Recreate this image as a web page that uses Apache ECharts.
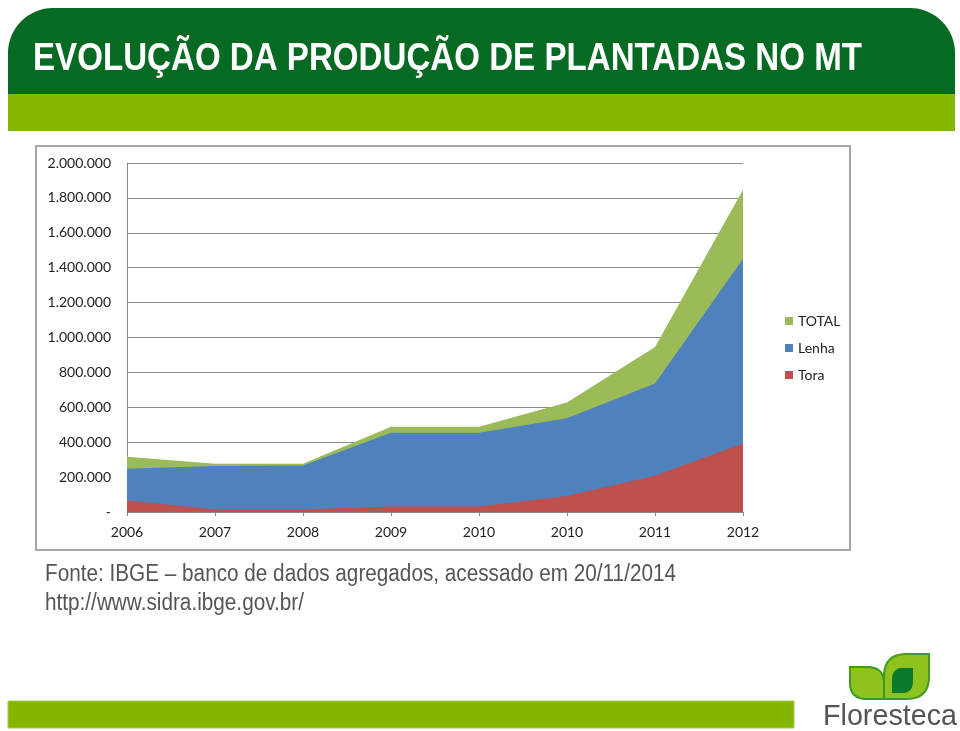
<!DOCTYPE html>
<html>
<head>
<meta charset="utf-8">
<script src="https://cdn.jsdelivr.net/npm/echarts@6/dist/echarts.min.js"></script>
<style>
  html, body { margin: 0; padding: 0; background: #fff; }
  #chart { width: 960px; height: 731px; }
</style>
</head>
<body>
<div id="chart"></div>
<script>
  // data
  const years = ['2006', '2007', '2008', '2009', '2010', '2010', '2011', '2012'];
  const total = [316000, 276000, 276000, 488000, 488000, 628000, 946000, 1847000];
  const lenha = [248000, 264000, 266000, 454000, 454000, 537000, 736000, 1452000];
  const tora  = [66000, 14000, 14000, 32000, 32000, 92000, 208000, 393000];
  const seriesNames = ['TOTAL', 'Lenha', 'Tora'];

  const sans = '"Liberation Sans", Arial, sans-serif';
  const calibri = 'Lato, "Open Sans", sans-serif';

  function fmt(v) {
    if (v === 0) return '-';
    return String(v).replace(/\B(?=(\d{3})+(?!\d))/g, '.');
  }

  // no narrow font installed, so squeeze text horizontally to the width it has in the slide
  const ctx = document.createElement('canvas').getContext('2d');
  function squeezed(text, font, x, y, w, fill) {
    ctx.font = font;
    const s = w / ctx.measureText(text).width;
    return { type: 'text', x: x, y: y, scaleX: s, originX: 0, style: { text: text, font: font, fill: fill, verticalAlign: 'middle' } };
  }

  // leaf outline with two sharp corners and two rounded ones
  function leaf(x0, y0, x1, y1, flip) {
    const pts = [];
    const q = (a, c, b, t) => (1 - t) * (1 - t) * a + 2 * (1 - t) * t * c + t * t * b;
    const n = 12;
    if (!flip) {
      // sharp top-left and bottom-right
      pts.push([x0, y0]);
      for (let i = 0; i <= n; i++) { const t = i / n; pts.push([q(x0 + (x1 - x0) * 0.5, x1, x1, t), q(y0, y0, y0 + (y1 - y0) * 0.5, t)]); }
      pts.push([x1, y1]);
      for (let i = 0; i <= n; i++) { const t = i / n; pts.push([q(x0 + (x1 - x0) * 0.5, x0, x0, t), q(y1, y1, y0 + (y1 - y0) * 0.5, t)]); }
    } else {
      // sharp top-right and bottom-left
      pts.push([x1, y0]);
      for (let i = 0; i <= n; i++) { const t = i / n; pts.push([q(x1, x1, x0 + (x1 - x0) * 0.5, t), q(y0 + (y1 - y0) * 0.5, y1, y1, t)]); }
      pts.push([x0, y1]);
      for (let i = 0; i <= n; i++) { const t = i / n; pts.push([q(x0, x0, x0 + (x1 - x0) * 0.5, t), q(y0 + (y1 - y0) * 0.5, y0, y0, t)]); }
    }
    return pts;
  }

  const myChart = echarts.init(document.getElementById('chart'));

  const areaSeries = (name, data, color) => ({
    name: name,
    type: 'line',
    data: data,
    symbol: 'none',
    lineStyle: { width: 0, opacity: 0 },
    areaStyle: { color: color, opacity: 1 },
    itemStyle: { color: color },
    emphasis: { disabled: true }
  });

  const option = {
    animation: false,
    textStyle: { fontFamily: calibri },
    grid: { left: 127, right: 217, top: 163, bottom: 219 },
    legend: {
      orient: 'vertical',
      left: 780,
      top: 309,
      itemGap: 13,
      itemWidth: 8,
      itemHeight: 8,
      icon: 'rect',
      textStyle: { fontSize: 14, lineHeight: 14, color: '#222', fontFamily: calibri },
      data: seriesNames
    },
    xAxis: {
      type: 'category',
      data: years,
      boundaryGap: false,
      axisLine: { lineStyle: { color: '#888', width: 1 } },
      axisTick: { show: true, length: 4, lineStyle: { color: '#888' } },
      axisLabel: { color: '#222', fontSize: 14, margin: 13 }
    },
    yAxis: {
      type: 'value',
      min: 0,
      max: 2000000,
      interval: 200000,
      axisLine: { show: true, lineStyle: { color: '#888', width: 1 } },
      axisTick: { show: false },
      splitLine: { lineStyle: { color: '#8c8c8c', width: 1 } },
      axisLabel: { color: '#222', fontSize: 14, margin: 16, formatter: fmt }
    },
    series: [
      areaSeries('TOTAL', total, '#9bbb59'),
      areaSeries('Lenha', lenha, '#4f81bd'),
      areaSeries('Tora', tora, '#c0504d')
    ],
    graphic: [
      // header band
      { type: 'rect', shape: { x: 8, y: 8, width: 947, height: 87, r: [45, 45, 0, 0] }, style: { fill: '#076a23' }, z: -10 },
      { type: 'rect', shape: { x: 8, y: 94, width: 947, height: 37 }, style: { fill: '#86b600' }, z: -10 },
      squeezed('EVOLUÇÃO DA PRODUÇÃO DE PLANTADAS NO MT', 'bold 39px ' + sans, 33, 59, 829, '#fff'),
      // chart frame
      { type: 'rect', shape: { x: 36, y: 146, width: 814, height: 404 }, style: { fill: 'none', stroke: '#a6a6a6', lineWidth: 2 }, z: -5 },
      // source text
      squeezed('Fonte: IBGE – banco de dados agregados, acessado em 20/11/2014', '23px ' + sans, 45, 575, 631, '#555'),
      squeezed('http://www.sidra.ibge.gov.br/', '23px ' + sans, 45, 604, 259, '#555'),
      // bottom band
      { type: 'rect', shape: { x: 8, y: 701, width: 786, height: 27 }, style: { fill: '#84b500', stroke: '#a8cc4a', lineWidth: 1 } },
      // logo
      { type: 'polygon', shape: { points: leaf(850, 667, 884, 699, false) }, style: { fill: '#8dc21f', stroke: '#3f9a1e', lineWidth: 2 } },
      { type: 'polygon', shape: { points: leaf(884, 654, 929, 699, true) }, style: { fill: '#8dc21f', stroke: '#3f9a1e', lineWidth: 2 } },
      { type: 'polygon', shape: { points: leaf(892, 668, 913, 693, true) }, style: { fill: '#0b7a2b' } },
      squeezed('Floresteca', '30px ' + sans, 823, 717, 134, '#555')
    ]
  };

  option && myChart.setOption(option);
</script>
</body>
</html>
